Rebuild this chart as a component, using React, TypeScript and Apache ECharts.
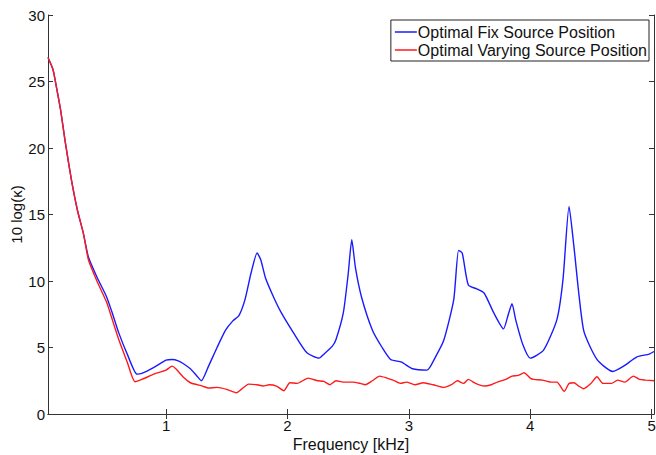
import React, { useEffect, useRef } from "react";
import * as echarts from "echarts";

const fixFreq = [0.027, 0.068, 0.09, 0.13, 0.17, 0.22, 0.27, 0.318, 0.36, 0.43, 0.51, 0.56, 0.61, 0.68, 0.76, 0.8, 0.9, 1.0, 1.05, 1.1, 1.14, 1.2, 1.25, 1.29, 1.35, 1.42, 1.49, 1.55, 1.6, 1.65, 1.7, 1.75, 1.78, 1.82, 1.885, 1.95, 2.05, 2.16, 2.26, 2.3, 2.37, 2.4, 2.46, 2.5, 2.53, 2.56, 2.61, 2.7, 2.78, 2.85, 2.94, 3.03, 3.15, 3.22, 3.29, 3.37, 3.41, 3.44, 3.49, 3.56, 3.62, 3.7, 3.78, 3.82, 3.85, 3.88, 3.94, 4.0, 4.11, 4.22, 4.27, 4.32, 4.36, 4.44, 4.55, 4.68, 4.77, 4.88, 4.98, 5.02];
const fixVals = [26.8, 25.9, 24.9, 22.9, 20.4, 17.6, 15.3, 13.6, 11.8, 10.3, 8.8, 7.5, 6.1, 4.5, 3.0, 3.05, 3.5, 4.05, 4.1, 4.0, 3.8, 3.4, 2.9, 2.5, 3.6, 5.0, 6.3, 7.0, 7.4, 8.6, 10.6, 12.1, 11.6, 10.2, 8.8, 7.6, 6.1, 4.6, 4.2, 4.5, 5.1, 5.6, 7.6, 10.5, 13.1, 11.0, 8.8, 6.3, 5.0, 4.1, 3.9, 3.4, 3.3, 4.3, 5.6, 8.6, 12.3, 12.1, 9.7, 9.4, 9.1, 7.6, 6.4, 7.5, 8.3, 7.1, 5.2, 4.2, 4.8, 7.1, 10.1, 15.6, 12.6, 6.3, 4.1, 3.2, 3.6, 4.3, 4.5, 4.7];

const varFreq = [0.027, 0.068, 0.09, 0.13, 0.17, 0.22, 0.27, 0.318, 0.36, 0.43, 0.51, 0.56, 0.61, 0.68, 0.744, 0.8, 0.9, 1.0, 1.05, 1.08, 1.15, 1.2, 1.3, 1.35, 1.42, 1.5, 1.58, 1.62, 1.68, 1.75, 1.8, 1.85, 1.91, 1.97, 2.02, 2.08, 2.17, 2.25, 2.3, 2.35, 2.4, 2.46, 2.54, 2.6, 2.64, 2.7, 2.76, 2.82, 2.87, 2.93, 2.98, 3.05, 3.12, 3.2, 3.29, 3.35, 3.4, 3.45, 3.49, 3.55, 3.62, 3.68, 3.73, 3.8, 3.85, 3.9, 3.95, 4.0, 4.03, 4.1, 4.17, 4.22, 4.28, 4.32, 4.36, 4.4, 4.44, 4.5, 4.55, 4.6, 4.67, 4.72, 4.78, 4.85, 4.9, 4.95, 5.02];
const varVals = [26.8, 25.9, 24.9, 22.9, 20.4, 17.6, 15.3, 13.6, 11.6, 10.0, 8.4, 7.0, 5.6, 3.9, 2.43, 2.6, 3.0, 3.3, 3.6, 3.4, 2.7, 2.35, 2.1, 1.95, 2.0, 1.85, 1.6, 1.85, 2.25, 2.2, 2.1, 2.2, 2.1, 1.75, 2.35, 2.3, 2.7, 2.5, 2.45, 2.2, 2.5, 2.4, 2.4, 2.3, 2.2, 2.5, 2.85, 2.7, 2.55, 2.3, 2.4, 2.2, 2.35, 2.2, 2.0, 2.2, 2.5, 2.3, 2.6, 2.3, 2.1, 2.2, 2.4, 2.6, 2.85, 2.9, 3.1, 2.7, 2.6, 2.55, 2.4, 2.4, 1.7, 2.3, 2.35, 2.1, 1.9, 2.3, 2.8, 2.3, 2.3, 2.55, 2.4, 2.85, 2.6, 2.55, 2.5];

const xTicks = [1, 2, 3, 4, 5];
const seriesNames = ["Optimal Fix Source Position", "Optimal Varying Source Position"];

const FONT = "'Liberation Sans', Arial, sans-serif";

export default function App() {
  const ref = useRef<HTMLDivElement>(null);
  useEffect(() => {
    if (!ref.current) return;
    const chart = echarts.init(ref.current, null, { renderer: "svg" });
    const axisLine = { show: true, lineStyle: { color: "#333", width: 1 } };
    const tick = { inside: true, length: 5, lineStyle: { color: "#333" } };
    chart.setOption({
      animation: false,
      backgroundColor: "#fff",
      textStyle: { fontFamily: FONT },
      grid: { left: 48, right: 2, top: 15, bottom: 41, containLabel: false, outerBoundsMode: "none" },
      legend: {
        orient: "vertical",
        right: 7,
        top: 20,
        data: seriesNames,
        icon: "rect",
        itemWidth: 22,
        itemHeight: 1.5,
        itemGap: 2,
        padding: [4, 2, 3, 4],
        borderColor: "#222",
        borderWidth: 1,
        backgroundColor: "#fff",
        textStyle: { fontSize: 16, lineHeight: 16, color: "#111", fontFamily: FONT, padding: [0, 0, 0, -4] },
      },
      xAxis: [
        {
          type: "value",
          min: 0.027,
          max: 5.02,
          name: "Frequency [kHz]",
          nameLocation: "middle",
          nameGap: 22,
          nameMoveOverlap: false,
          nameTextStyle: { fontSize: 16, color: "#111", fontFamily: FONT },
          axisLine,
          axisTick: { ...tick, customValues: xTicks },
          axisLabel: { customValues: xTicks, fontSize: 15, color: "#111", margin: 4, fontFamily: FONT },
          splitLine: { show: false },
        },
        {
          type: "value",
          position: "top",
          min: 0.027,
          max: 5.02,
          axisLine,
          axisTick: { ...tick, customValues: xTicks },
          axisLabel: { show: false },
          splitLine: { show: false },
        },
      ],
      yAxis: [
        {
          type: "value",
          min: 0,
          max: 30,
          interval: 5,
          name: "10 log(κ)",
          nameLocation: "middle",
          nameGap: 24,
          nameRotate: 90,
          nameMoveOverlap: false,
          nameTextStyle: { fontSize: 15, color: "#111", fontFamily: FONT },
          axisLine,
          axisTick: tick,
          axisLabel: { fontSize: 15, color: "#111", margin: 3, fontFamily: FONT },
          splitLine: { show: false },
        },
        {
          type: "value",
          position: "right",
          min: 0,
          max: 30,
          interval: 5,
          axisLine,
          axisTick: tick,
          axisLabel: { show: false },
          splitLine: { show: false },
        },
      ],
      series: [
        {
          name: seriesNames[0],
          type: "line",
          showSymbol: false,
          smooth: 0.2,
          data: fixFreq.map((f, i) => [f, fixVals[i]]),
          lineStyle: { color: "#1a1aff", width: 1.4 },
          itemStyle: { color: "#1a1aff" },
        },
        {
          name: seriesNames[1],
          type: "line",
          showSymbol: false,
          smooth: 0.2,
          data: varFreq.map((f, i) => [f, varVals[i]]),
          lineStyle: { color: "#ff1a1a", width: 1.4 },
          itemStyle: { color: "#ff1a1a" },
        },
      ],
    });
    return () => chart.dispose();
  }, []);
  return <div ref={ref} style={{ width: 656, height: 455, position: "fixed", left: 0, top: 0 }} />;
}
